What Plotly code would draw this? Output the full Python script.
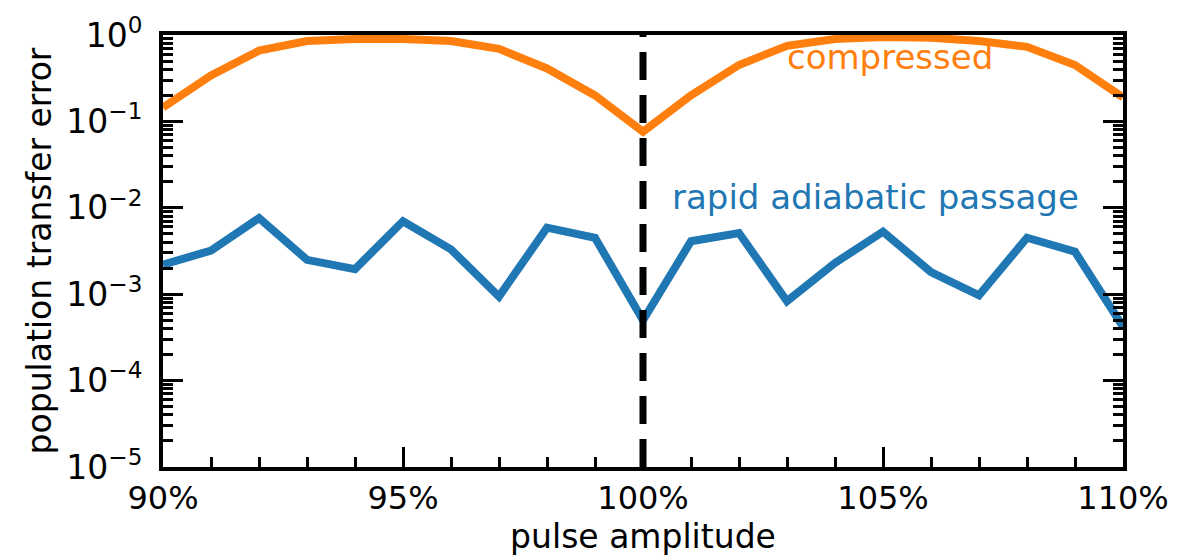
import plotly.graph_objects as go

amplitude = [90, 91, 92, 93, 94, 95, 96, 97, 98, 99, 100, 101, 102, 103, 104, 105, 106, 107, 108, 109, 110]
rap_error = [2.2e-3, 3.2e-3, 7.6e-3, 2.5e-3, 1.95e-3, 7.0e-3, 3.3e-3, 9.4e-4, 5.9e-3, 4.5e-3, 5.0e-4,
             4.1e-3, 5.1e-3, 8.3e-4, 2.3e-3, 5.3e-3, 1.8e-3, 9.7e-4, 4.5e-3, 3.1e-3, 4.2e-4]
compressed_error = [0.145, 0.34, 0.66, 0.85, 0.9, 0.9, 0.85, 0.69, 0.41, 0.2, 0.076,
                    0.2, 0.45, 0.75, 0.9, 0.95, 0.93, 0.85, 0.73, 0.45, 0.19]

x_tickvals = [90, 95, 100, 105, 110]
x_ticktext = ["90%", "95%", "100%", "105%", "110%"]
y_tickvals = [1, 1e-1, 1e-2, 1e-3, 1e-4, 1e-5]
y_ticktext = ["10<sup>0</sup>", "10<sup>−1</sup>", "10<sup>−2</sup>", "10<sup>−3</sup>",
              "10<sup>−4</sup>", "10<sup>−5</sup>"]
center_amp = 100

BLUE = "#1f77b4"
ORANGE = "#ff7f0e"
FONT = "DejaVu Sans"

fig = go.Figure()
fig.add_trace(go.Scatter(x=amplitude, y=compressed_error, mode="lines",
                         line=dict(color=ORANGE, width=8), showlegend=False))
fig.add_trace(go.Scatter(x=amplitude, y=rap_error, mode="lines",
                         line=dict(color=BLUE, width=8), showlegend=False))
fig.add_trace(go.Scatter(x=[center_amp, center_amp], y=[1e-5, 1], mode="lines",
                         line=dict(color="black", width=7, dash="28px,15px"), showlegend=False))

fig.add_annotation(x=105.15, y=-0.25, text="compressed", showarrow=False,
                   font=dict(family=FONT, size=34, color=ORANGE))
fig.add_annotation(x=104.85, y=-1.87, text="rapid adiabatic passage", showarrow=False,
                   font=dict(family=FONT, size=34, color=BLUE))

fig.update_xaxes(range=[90, 110], tickvals=x_tickvals, ticktext=x_ticktext,
                 ticks="inside", ticklen=20, tickwidth=2.5, tickcolor="black",
                 minor=dict(ticks="inside", dtick=1, ticklen=10, tickwidth=2.5, tickcolor="black"),
                 showline=True, linewidth=4, linecolor="black", mirror=True,
                 showgrid=False, zeroline=False,
                 tickfont=dict(family=FONT, size=32, color="black"),
                 title=dict(text="pulse amplitude", font=dict(family=FONT, size=33, color="black"), standoff=6))
fig.update_yaxes(type="log", range=[-5, 0], tickvals=y_tickvals, ticktext=y_ticktext,
                 ticks="inside", ticklen=20, tickwidth=2.5, tickcolor="black",
                 minor=dict(ticks="inside", dtick="D1", ticklen=10, tickwidth=2.5, tickcolor="black"),
                 showline=True, linewidth=4, linecolor="black", mirror="ticks",
                 showgrid=False, zeroline=False, ticklabelstandoff=10,
                 tickfont=dict(family=FONT, size=33, color="black"),
                 title=dict(text="population transfer error", font=dict(family=FONT, size=33, color="black"), standoff=6))

fig.update_layout(width=1190, height=559, margin=dict(l=163, r=67, t=26, b=92),
                  plot_bgcolor="white", paper_bgcolor="white",
                  font=dict(family=FONT, color="black"))

fig.write_html("out.html")
